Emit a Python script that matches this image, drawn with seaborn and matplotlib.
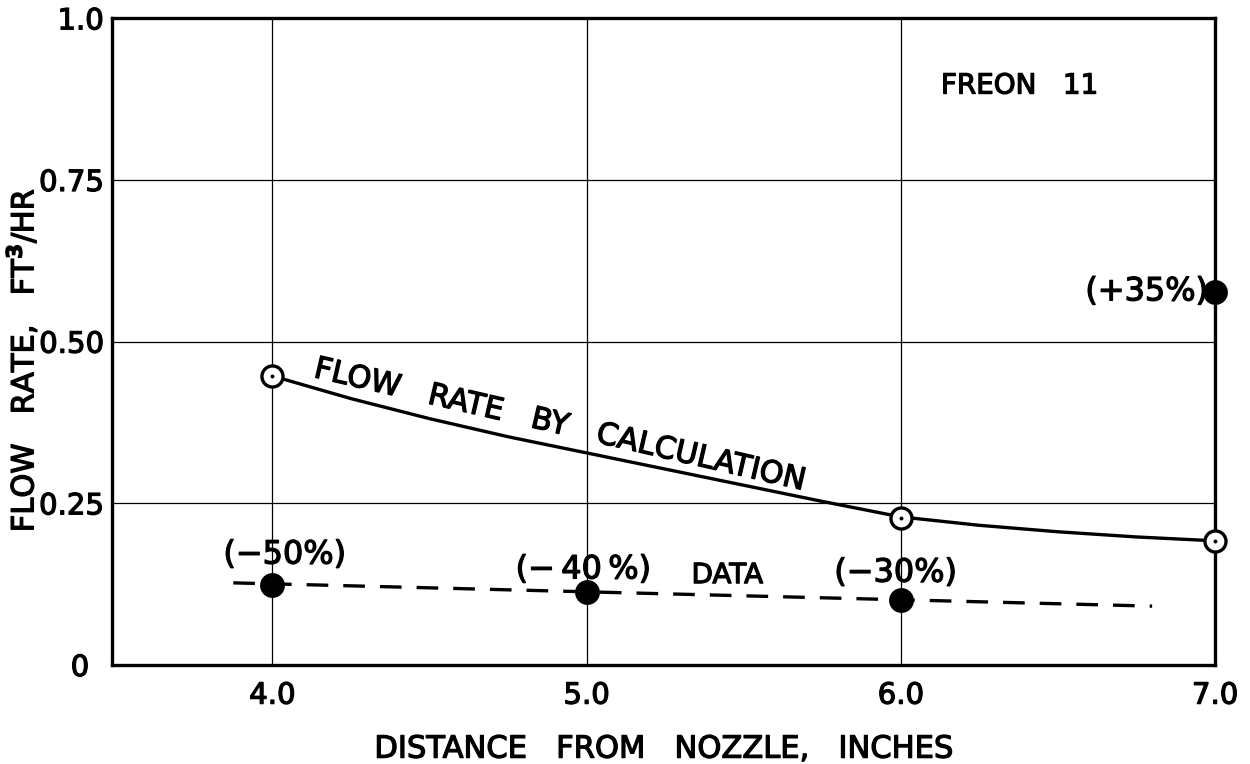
import matplotlib
matplotlib.use("Agg")
import matplotlib.pyplot as plt
import matplotlib.patheffects as pe
import seaborn as sns
import pandas as pd

# calculated flow-rate curve
calc_x = [4.0, 4.25, 4.5, 4.75, 5.0, 5.25, 5.5, 5.75, 6.0, 6.25, 6.5, 6.75, 7.0]
calc_y = [0.447, 0.412, 0.381, 0.353, 0.328, 0.303, 0.278, 0.253, 0.229, 0.216, 0.206, 0.198, 0.192]
# calculated points (open circles)
calc_pt_x = [4.0, 6.0, 7.0]
calc_pt_y = [0.447, 0.227, 0.192]
# measured data (filled circles)
data_x = [4.0, 5.0, 6.0, 7.0]
data_y = [0.124, 0.113, 0.100, 0.577]
data_labels = ["(−50%)", "(−\u200940\u2009%)", "(−30%)", "(+35%)"]
# dashed data trend line
trend_x = [3.876, 6.8]
trend_y = [0.127, 0.091]

x_ticks = [4.0, 5.0, 6.0, 7.0]
x_ticklabels = ["4.0", "5.0", "6.0", "7.0"]
y_ticks = [0, 0.25, 0.5, 0.75, 1.0]
y_ticklabels = ["0\u2002", "0.25", "0.50", "0.75", "1.0"]

sns.set_theme(style="white")
plt.rcParams['font.family'] = ['DejaVu Sans']
for k in ["text.color", "axes.labelcolor", "xtick.color", "ytick.color"]:
    plt.rcParams[k] = "black"

heavy = [pe.withStroke(linewidth=0.9, foreground="black")]

fig = plt.figure(figsize=(12.5, 7.64), dpi=100)
ax = fig.add_axes([0.0896, 0.1296, 0.9720 - 0.0896, 0.976 - 0.1296])

ax.set_xlim(3.49, 7.0)
ax.set_ylim(0, 1.0)

# grid
for gx in [4.0, 5.0, 6.0]:
    ax.axvline(gx, color="black", lw=0.9, zorder=1)
for gy in [0.25, 0.5, 0.75]:
    ax.axhline(gy, color="black", lw=0.9, zorder=1)

calc_df = pd.DataFrame({"x": calc_x, "y": calc_y})
sns.lineplot(data=calc_df, x="x", y="y", ax=ax, color="black", lw=2.4, zorder=3)

trend_df = pd.DataFrame({"x": trend_x, "y": trend_y})
sns.lineplot(data=trend_df, x="x", y="y", ax=ax, color="black", lw=2.4,
             dashes=False, zorder=3)
ax.lines[-1].set_dashes((6.5, 4.5))

pt_df = pd.DataFrame({"x": calc_pt_x, "y": calc_pt_y})
sns.scatterplot(data=pt_df, x="x", y="y", ax=ax, s=230, marker="o",
                facecolor="white", edgecolor="black", linewidth=2.4, zorder=5,
                clip_on=False)
sns.scatterplot(data=pt_df, x="x", y="y", ax=ax, s=8, marker="o",
                color="black", linewidth=0, zorder=6, clip_on=False)

d_df = pd.DataFrame({"x": data_x, "y": data_y})
sns.scatterplot(data=d_df, x="x", y="y", ax=ax, s=320, marker="o",
                color="black", linewidth=0, zorder=5, clip_on=False)

# annotations
fs = 23
texts = []
texts.append(ax.text(4.04, 0.170, data_labels[0], ha="center", va="center", fontsize=fs))
texts.append(ax.text(4.99, 0.147, data_labels[1], ha="center", va="center", fontsize=fs))
texts.append(ax.text(5.984, 0.142, data_labels[2], ha="center", va="center", fontsize=fs))
texts.append(ax.text(6.978, 0.577, data_labels[3], ha="right", va="center", fontsize=fs))
texts.append(ax.text(5.448, 0.139, "DATA", ha="center", va="center", fontsize=20))
texts.append(ax.text(6.378, 0.896, "FREON   11", ha="center", va="center", fontsize=20))
texts.append(ax.text(4.914, 0.371, "FLOW   RATE   BY   CALCULATION", ha="center",
                     va="center", fontsize=22, rotation=-13, rotation_mode="anchor"))

ax.set_xticks(x_ticks)
ax.set_xticklabels(x_ticklabels, fontsize=21)
ax.set_yticks(y_ticks)
ax.set_yticklabels(y_ticklabels, fontsize=21)
ax.tick_params(axis="both", length=0)
ax.tick_params(axis="x", pad=12)
ax.tick_params(axis="y", pad=6)

ax.set_xlabel("DISTANCE   FROM   NOZZLE,   INCHES", fontsize=22, labelpad=18)
ax.set_ylabel("FLOW   RATE,   FT$^{\\mathbf{3}}$/HR", fontsize=22)
ax.yaxis.label.set_verticalalignment("center")
ax.yaxis.set_label_coords(-0.0816, 0.471)

for t in texts + ax.get_xticklabels() + ax.get_yticklabels() + [ax.xaxis.label, ax.yaxis.label]:
    t.set_path_effects(heavy)

for sp in ax.spines.values():
    sp.set_visible(True)
    sp.set_color("black")
    sp.set_linewidth(2.4)
ax.grid(False)

fig.savefig("out.png", dpi=100)
